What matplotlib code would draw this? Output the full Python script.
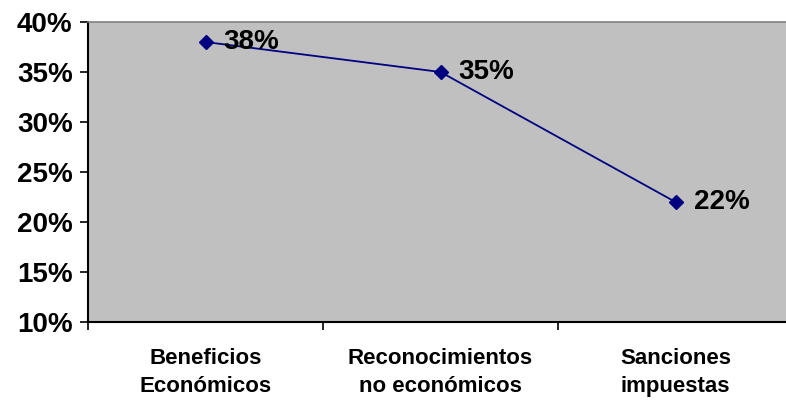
import matplotlib.pyplot as plt
from matplotlib.ticker import FixedLocator, PercentFormatter

categories = ["Beneficios\nEconómicos", "Reconocimientos\nno económicos", "Sanciones\nimpuestas"]
values = [38, 35, 22]
y_ticks = [10, 15, 20, 25, 30, 35, 40]

plt.rcParams['font.family'] = ['Liberation Sans', 'DejaVu Sans']
plt.rcParams['font.weight'] = 'bold'

fig = plt.figure(figsize=(7.86, 4.0), dpi=100)
ax = fig.add_axes([88 / 786, 78 / 400, 705 / 786, 300 / 400])
ax.set_facecolor('#C0C0C0')

x = list(range(len(categories)))
ax.plot(x, values, color='#000080', linewidth=1.3, marker='D', markersize=7.5,
        markerfacecolor='#000080', markeredgecolor='#000080', clip_on=False, zorder=3)

for xi, v in zip(x, values):
    ax.annotate(f"{v}%", (xi, v), xytext=(13, 0), textcoords='offset points',
                ha='left', va='center', fontsize=20, fontweight='bold', color='black')

ax.set_xlim(-0.5, len(categories) - 0.5)
ax.set_ylim(10, 40)
ax.set_yticks(y_ticks)
ax.yaxis.set_major_formatter(PercentFormatter(decimals=0))
ax.tick_params(axis='y', direction='out', length=6, width=1.2, pad=5, labelsize=20)

ax.set_xticks(x)
ax.set_xticklabels(categories, fontsize=16, fontweight='bold', linespacing=1.42)
ax.tick_params(axis='x', which='major', length=0, pad=19)
ax.xaxis.set_minor_locator(FixedLocator([i - 0.5 for i in range(len(categories) + 1)]))
ax.tick_params(axis='x', which='minor', direction='out', length=6, width=1.2)

for side in ('left', 'bottom'):
    ax.spines[side].set_color('black')
    ax.spines[side].set_linewidth(1.5)
ax.spines['top'].set_color('#808080')
ax.spines['top'].set_linewidth(1.2)
ax.spines['right'].set_visible(False)

fig.savefig('out.png', dpi=100, facecolor='white')
